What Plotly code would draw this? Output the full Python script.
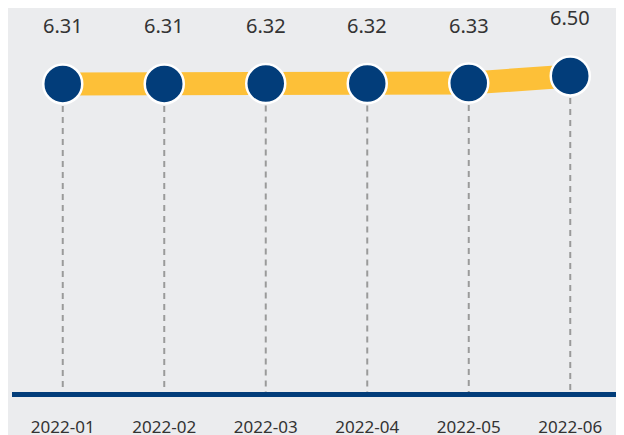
import plotly.graph_objects as go

months = ["2022-01", "2022-02", "2022-03", "2022-04", "2022-05", "2022-06"]
values = [6.31, 6.31, 6.32, 6.32, 6.33, 6.50]
labels = ["6.31", "6.31", "6.32", "6.32", "6.33", "6.50"]

Y_MIN, Y_MAX = -1.01, 7.83
BG = "#ebecee"
NAVY = "#023d7a"
YELLOW = "#fdc038"

fig = go.Figure()

# dashed drop lines from each point to the baseline
drop_x, drop_y = [], []
for m, v in zip(months, values):
    drop_x += [m, m, None]
    drop_y += [v, Y_MIN, None]
fig.add_trace(go.Scatter(x=drop_x, y=drop_y, mode="lines",
                         line=dict(color="#9a9a9a", width=2, dash="6px,5px"),
                         hoverinfo="skip", showlegend=False))

# thick yellow line
fig.add_trace(go.Scatter(x=months, y=values, mode="lines",
                         line=dict(color=YELLOW, width=23),
                         hoverinfo="skip", showlegend=False))

# markers
fig.add_trace(go.Scatter(x=months, y=values, mode="markers",
                         marker=dict(size=39, color=NAVY, line=dict(color="white", width=2.5)),
                         showlegend=False))

for m, v, t in zip(months, values, labels):
    fig.add_annotation(x=m, y=v, text=t, showarrow=False, yshift=58,
                       font=dict(family="Noto Sans", size=20, color="#333333"))

fig.update_layout(
    width=624, height=435,
    margin=dict(l=4, r=11, t=12, b=51),
    paper_bgcolor=BG, plot_bgcolor=BG,
    showlegend=False,
    xaxis=dict(type="category", range=[-0.5, 5.5], showgrid=False, zeroline=False,
               showline=True, linecolor=NAVY, linewidth=5, automargin=False,
               ticks="", ticklabelstandoff=16,
               tickfont=dict(family="Noto Sans", size=17, color="#333333")),
    yaxis=dict(range=[Y_MIN, Y_MAX], visible=False, showgrid=False, zeroline=False,
               automargin=False),
)

fig.write_html("out.html")
